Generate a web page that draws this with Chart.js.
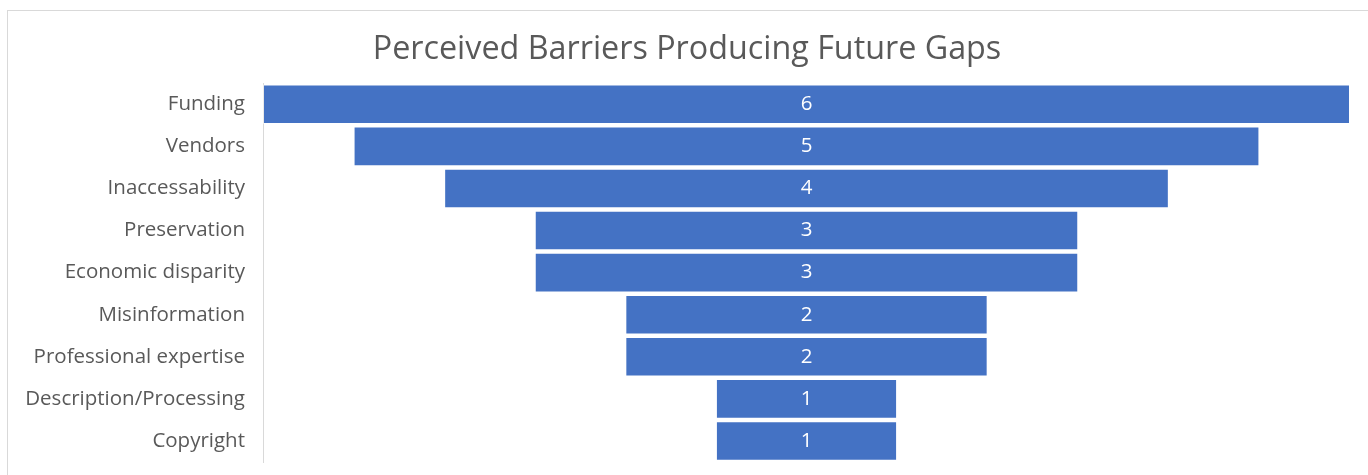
<!DOCTYPE html>
<html>
<head>
<meta charset="utf-8">
<script src="https://cdn.jsdelivr.net/npm/chart.js@4"></script>
<style>
  html, body { margin:0; padding:0; background:#fff; }
  #wrap { position:relative; width:1368px; height:475px; }
  #frame { position:absolute; left:7px; top:10px; width:1362px; height:480px; border:1px solid #d9d9d9; box-sizing:border-box; }
  canvas { position:absolute; left:0; top:0; }
</style>
</head>
<body>
<div id="wrap">
  <div id="frame"></div>
  <canvas id="chart" width="1368" height="475"></canvas>
</div>
<script>
const categories = ['Funding','Vendors','Inaccessability','Preservation','Economic disparity','Misinformation','Professional expertise','Description/Processing','Copyright'];
const counts = [6,5,4,3,3,2,2,1,1];
const chartTitle = 'Perceived Barriers Producing Future Gaps';

const fontFamily = '"Open Sans", sans-serif';

// draw the count in the middle of each funnel bar
const barLabels = {
  id:'barLabels',
  afterDatasetsDraw(chart){
    const ctx = chart.ctx;
    const meta = chart.getDatasetMeta(0);
    ctx.save();
    ctx.fillStyle = '#ffffff';
    ctx.font = '20.5px ' + fontFamily;
    ctx.textAlign = 'center';
    ctx.textBaseline = 'middle';
    meta.data.forEach((bar, i) => {
      const x = (bar.x + bar.base) / 2;
      ctx.fillText(String(counts[i]), x, bar.y);
    });
    ctx.restore();
  }
};

new Chart(document.getElementById('chart'), {
  type:'bar',
  data:{
    labels:categories,
    datasets:[{
      data:counts.map(v => [-v/2, v/2]),
      backgroundColor:'#4472c4',
      borderColor:'rgba(255,255,255,0.45)',
      borderWidth:1,
      borderSkipped:false,
      barPercentage:0.94,
      categoryPercentage:1
    }]
  },
  options:{
    indexAxis:'y',
    responsive:false,
    animation:false,
    layout:{ padding:{ left:24, right:18, top:0, bottom:13 } },
    plugins:{
      legend:{ display:false },
      tooltip:{ enabled:false },
      title:{
        display:true,
        text:chartTitle,
        color:'#595959',
        font:{ family:fontFamily, size:32.3, weight:'normal', lineHeight:1.2 },
        padding:{ top:30.5, bottom:14 }
      }
    },
    scales:{
      x:{ display:false, min:-3, max:3 },
      y:{
        grid:{ display:false, drawTicks:false },
        border:{ display:true, color:'#d9d9d9', width:1 },
        ticks:{ color:'#595959', padding:18, font:{ family:fontFamily, size:20.5 } },
        afterFit(scale){
          scale.width = 239;
          scale.paddingTop = 0;
          scale.paddingBottom = 0;
        }
      }
    }
  },
  plugins:[barLabels]
});
</script>
</body>
</html>
